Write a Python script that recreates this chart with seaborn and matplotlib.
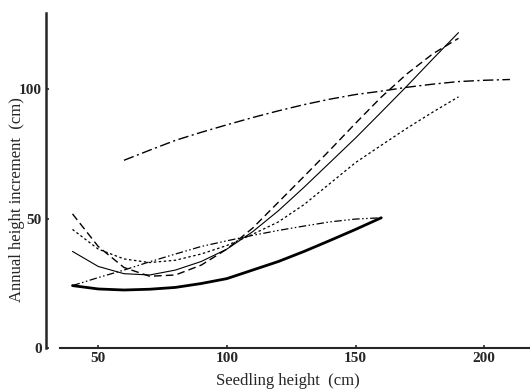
import matplotlib
matplotlib.use("Agg")
import matplotlib.pyplot as plt
import seaborn as sns
import pandas as pd

# ---- data ----
thick_x = [40, 50, 60, 70, 80, 90, 100, 110, 120, 130, 140, 150, 160]
thick_y = [24.1, 22.8, 22.4, 22.7, 23.4, 24.9, 26.8, 30.1, 33.4, 37.3, 41.5, 45.8, 50.3]

dd2_x = [40, 50, 60, 70, 80, 90, 100, 110, 120, 130, 140, 150, 160]
dd2_y = [24.1, 27.2, 30.1, 33.3, 36.3, 39.2, 41.4, 43.5, 45.4, 47.1, 48.7, 49.8, 50.3]

solid_x = [40, 50, 60, 70, 80, 90, 100, 110, 120, 130, 140, 150, 160, 170, 180, 190]
solid_y = [37.3, 31.5, 28.7, 28.2, 30.1, 33.4, 38.2, 44.9, 53.0, 62.1, 71.6, 81.1, 91.1, 101.2, 111.6, 121.8]

dash_x = [40, 50, 60, 70, 80, 90, 100, 110, 120, 130, 140, 150, 160, 170, 180, 190]
dash_y = [51.8, 39.2, 31.1, 27.7, 28.2, 32.0, 38.2, 46.3, 56.3, 66.3, 76.4, 86.8, 96.9, 105.9, 113.6, 119.6]

dot_x = [40, 50, 60, 70, 80, 90, 100, 110, 120, 130, 140, 150, 160, 170, 180, 190]
dot_y = [45.8, 38.2, 34.4, 33.0, 33.9, 36.3, 39.6, 43.9, 48.7, 55.4, 63.5, 71.6, 78.3, 84.9, 91.1, 97.0]

dashdot_x = [60, 70, 80, 90, 100, 110, 120, 130, 140, 150, 160, 170, 180, 190, 200, 210]
dashdot_y = [72.5, 76.4, 80.2, 83.3, 86.2, 89.0, 91.6, 94.0, 96.1, 97.9, 99.2, 100.7, 101.9, 102.9, 103.4, 103.7]

x_ticks = [50, 100, 150, 200]
y_ticks = [0, 50, 100]

series = {
    "thick": (thick_x, thick_y),
    "dd2": (dd2_x, dd2_y),
    "solid": (solid_x, solid_y),
    "dash": (dash_x, dash_y),
    "dot": (dot_x, dot_y),
    "dashdot": (dashdot_x, dashdot_y),
}
frames = [pd.DataFrame({"x": xs, "y": ys, "s": name}) for name, (xs, ys) in series.items()]
df = pd.concat(frames, ignore_index=True)

styles = {
    "thick": dict(lw=2.0, dashes=None),
    "dd2": dict(lw=0.9, dashes=(6, 2, 1.2, 2, 1.2, 2)),
    "solid": dict(lw=0.8, dashes=None),
    "dash": dict(lw=1.0, dashes=(5.5, 3)),
    "dot": dict(lw=0.9, dashes=(2, 2)),
    "dashdot": dict(lw=1.0, dashes=(7.5, 2.5, 1.5, 2.5)),
}

sns.set_style("ticks")
plt.rcParams["font.family"] = ["Liberation Serif", "DejaVu Serif"]

fig = plt.figure(figsize=(5.3, 3.89), dpi=100)
ax = fig.add_axes([46 / 530, 1 - 348 / 389, 484 / 530, (348 - 12.7) / 389])

for name in series:
    sub = df[df["s"] == name]
    st = styles[name]
    sns.lineplot(data=sub, x="x", y="y", ax=ax, color="black",
                 linewidth=st["lw"], estimator=None, sort=True)
    if st["dashes"] is not None:
        ax.lines[-1].set_dashes(st["dashes"])

ax.set_xlim(29.7, 217.8)
ax.set_ylim(0, 129.5)
ax.spines["left"].set_bounds(0, 129.5)
ax.spines["bottom"].set_bounds(35.1, 217.8)
ax.spines["left"].set_linewidth(1.8)
ax.spines["bottom"].set_linewidth(1.5)
ax.spines["top"].set_visible(False)
ax.spines["right"].set_visible(False)
ax.set_xticks(x_ticks)
ax.set_yticks(y_ticks)
ax.tick_params(direction="in", length=2.5, width=1.2, labelsize=11, pad=3)
for t in ax.get_xticklabels() + ax.get_yticklabels():
    t.set_fontweight("bold")
ax.set_xlabel("Seedling height  (cm)", fontsize=12)
ax.xaxis.set_label_coords(0.5, -(381 - 348) / 335.3)
ax.xaxis.label.set_verticalalignment("center")
ax.set_ylabel("Annual height increment  (cm)", fontsize=12)
ax.yaxis.set_label_coords(-(46 - 17) / 484, (348 - 200) / 335.3)
ax.yaxis.label.set_verticalalignment("center")

fig.savefig("out.png", dpi=100)
